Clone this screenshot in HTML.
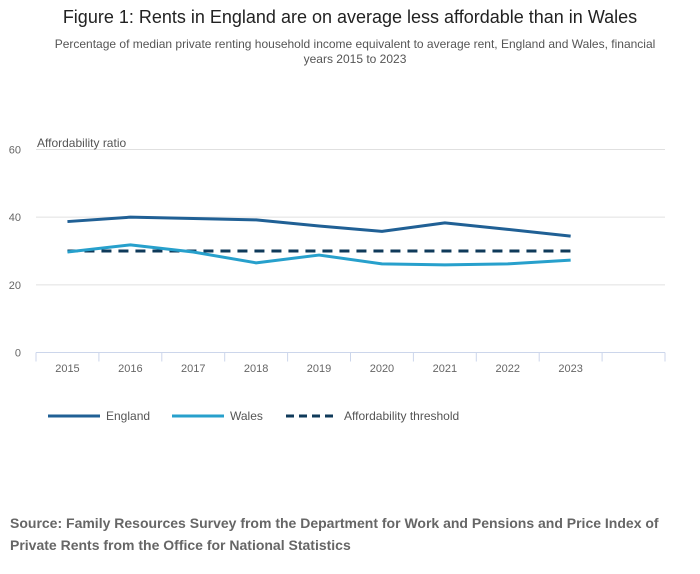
<!DOCTYPE html>
<html><head><meta charset="utf-8"><style>
body{margin:0;width:700px;height:574px;background:#fff;font-family:"Liberation Sans",sans-serif;position:relative;overflow:hidden}
.t{position:absolute;left:0;width:700px;text-align:center;color:#222;font-size:18px;top:7px}
.s{position:absolute;left:50px;width:610px;text-align:center;color:#555;font-size:12px;top:37px;line-height:15px}
.src{position:absolute;left:10px;top:512px;width:680px;color:#666;font-size:14px;font-weight:bold;line-height:22px}
</style></head><body>
<div class="t">Figure 1: Rents in England are on average less affordable than in Wales</div>
<div class="s">Percentage of median private renting household income equivalent to average rent, England and Wales, financial years 2015 to 2023</div>
<svg id="c" width="700" height="574" style="position:absolute;left:0;top:0"></svg>
<div class="src">Source: Family Resources Survey from the Department for Work and Pensions and Price Index of Private Rents from the Office for National Statistics</div>
<script>
const categories=["2015","2016","2017","2018","2019","2020","2021","2022","2023",""];
const england=[38.7,40.0,39.6,39.2,37.4,35.8,38.3,36.4,34.4];
const wales=[29.7,31.8,29.7,26.5,28.8,26.2,25.9,26.2,27.3];
const threshold=[30,30,30,30,30,30,30,30,30];
const yTicks=[0,20,40,60];
const NS="http://www.w3.org/2000/svg";
const svg=document.getElementById('c');
const L=36,R=665,T=149.5,B=352.5,bw=(R-L)/categories.length;
const x=i=>L+bw*(i+0.5);
const y=v=>B-(v/60)*(B-T);
function mk(t,a){const e=document.createElementNS(NS,t);for(const k in a)e.setAttribute(k,a[k]);svg.appendChild(e);return e;}
yTicks.forEach(v=>{
 if(v>0){const g=mk('line',{x1:L,x2:R,y1:y(v),y2:y(v),stroke:'#e0e0e0','stroke-width':1});
 
 }
 const t=mk('text',{x:21,y:y(v)+4,'text-anchor':'end','font-size':11,fill:'#666'});t.textContent=v;
 
 
});
const yt=mk('text',{x:37,y:147,'font-size':12,fill:'#555'});yt.textContent='Affordability ratio';


const ax=mk('line',{x1:L,x2:R,y1:B,y2:B,stroke:'#ccd6eb','stroke-width':1});


for(let i=0;i<=categories.length;i++){const tk=mk('line',{x1:L+bw*i,x2:L+bw*i,y1:B,y2:B+9,stroke:'#ccd6eb'});
 
 }
categories.forEach((c,i)=>{if(!c)return;const t=mk('text',{x:x(i),y:372,'text-anchor':'middle','font-size':11,fill:'#666'});t.textContent=c;
 
 });
function series(d,col,dash,name){const p=mk('polyline',{points:d.map((v,i)=>x(i)+','+y(v)).join(' '),fill:'none',stroke:col,'stroke-width':3,'stroke-dasharray':dash||'none','stroke-linejoin':'round'});
 
 }
series(threshold,'#0f3a5a','10 7','threshold-line');
series(wales,'#27a0cc','','wales-line');
series(england,'#206095','','england-line');
const leg=[['England','#206095','',48],['Wales','#27a0cc','',172],['Affordability threshold','#0f3a5a','8 5',286]];
leg.forEach(([n,c,d,lx])=>{
 const l=mk('line',{x1:lx,x2:lx+52,y1:416,y2:416,stroke:c,'stroke-width':3,'stroke-dasharray':d||'none'});
 
 
 const t=mk('text',{x:lx+58,y:420,'font-size':12,fill:'#555'});t.textContent=n;
 
 
});
</script>
</body></html>
